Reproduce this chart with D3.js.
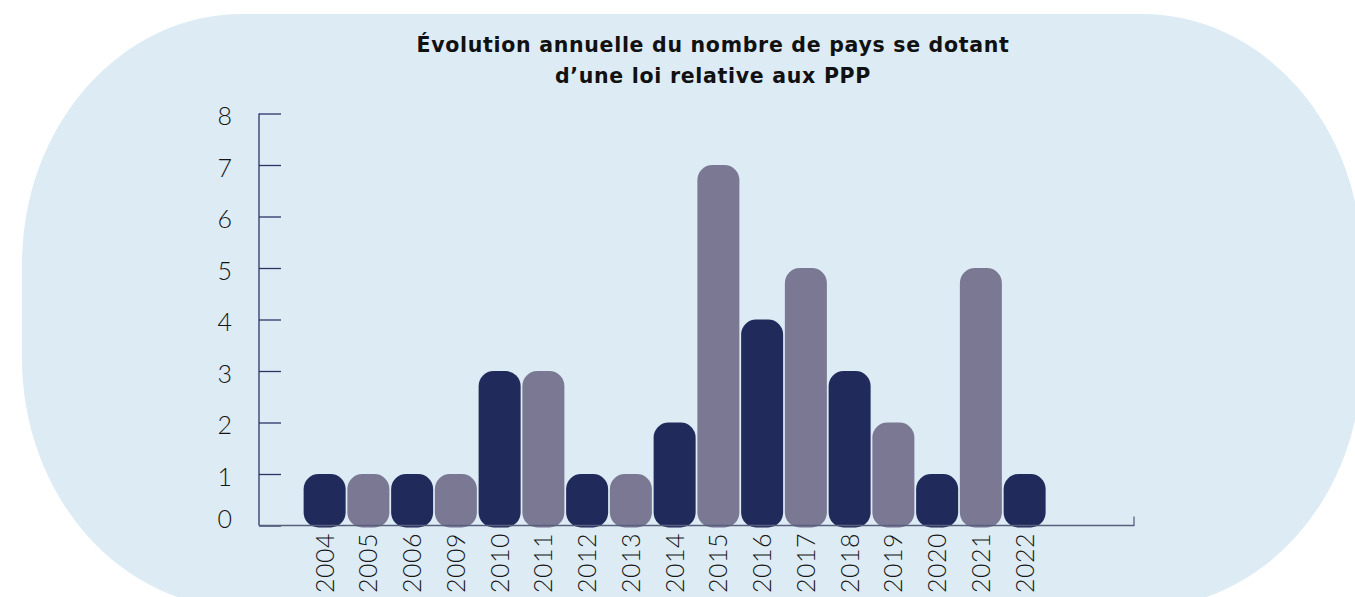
<!DOCTYPE html>
<html>
<head>
<meta charset="utf-8">
<script src="https://cdn.jsdelivr.net/npm/d3@7"></script>
<style>
  body { margin: 0; background: #fff; }
  svg { display: block; }
</style>
</head>
<body>
<div class="chart"></div>
<script>
    // data
    var years  = ["2004", "2005", "2006", "2009", "2010", "2011", "2012", "2013", "2014",
                  "2015", "2016", "2017", "2018", "2019", "2020", "2021", "2022"];
    var counts = [1, 1, 1, 1, 3, 3, 1, 1, 2, 7, 4, 5, 3, 2, 1, 5, 1];
    var yTicks = [0, 1, 2, 3, 4, 5, 6, 7, 8];
    var titleLines = ["Évolution annuelle du nombre de pays se dotant",
                      "d\u2019une loi relative aux PPP"];

    var width = 1355, height = 597;
    var dark = "#212b5b", grey = "#7b7894";
    var digitFont = "Lato, DejaVu Sans, sans-serif";

    var svg = d3.select(".chart")
            .append("svg")
            .attr("width", width)
            .attr("height", height);

    // background blob
    svg.append("rect")
            .attr("x", 22)
            .attr("y", 14)
            .attr("width", 1340)
            .attr("height", 594)
            .attr("rx", 220)
            .attr("ry", 250)
            .style("fill", "#dcebf4");

    // title
    svg.append("text")
            .attr("x", 713)
            .attr("y", 52)
            .style("text-anchor", "middle")
            .style("font-family", "DejaVu Sans, sans-serif")
            .style("font-weight", "bold")
            .style("font-size", "20.5px")
            .style("letter-spacing", "0.7px")
            .style("fill", "#111")
            .selectAll("tspan")
            .data(titleLines)
            .enter()
            .append("tspan")
            .attr("x", 713)
            .attr("dy", function(d, i) { return i ? 31 : 0; })
            .text(function(d) { return d; });

    var left = 259, right = 1134, step = (right - left) / 20;

    var x = d3.scaleBand()
            .domain(years)
            .range([left + step, left + step * 18])
            .paddingInner(0.04)
            .paddingOuter(0.02);

    var y = d3.scaleLinear()
            .domain([0, 8])
            .range([525.5, 113.5]);

    // y axis
    var yAxis = svg.append("g")
            .attr("transform", "translate(" + left + ",0)")
            .call(d3.axisRight(y).tickValues(yTicks).tickSize(22).tickFormat(""));
    yAxis.selectAll("path, line")
            .style("stroke", "#2a3466")
            .style("stroke-width", 1.3);
    yAxis.select(".domain").attr("d", "M0," + y(8) + "V" + y(0));

    svg.append("g")
            .selectAll("text")
            .data(yTicks)
            .enter()
            .append("text")
            .attr("x", 232)
            .attr("y", function(d) { return y(d) + (d === 0 ? -6 : 3); })
            .attr("dy", ".35em")
            .style("text-anchor", "end")
            .style("font-family", digitFont)
            .style("font-weight", 300)
            .style("font-size", "25px")
            .style("fill", "#151515")
            .text(function(d) { return d; });

    // bars
    svg.append("g")
            .selectAll("rect")
            .data(years)
            .enter()
            .append("rect")
            .attr("x", function(d) { return x(d); })
            .attr("y", function(d, i) { return y(counts[i]); })
            .attr("width", x.bandwidth())
            .attr("height", function(d, i) { return y(0) - y(counts[i]) + 2; })
            .attr("rx", 15)
            .style("fill", function(d, i) { return i % 2 ? grey : dark; });

    // x axis
    svg.append("path")
            .attr("d", "M" + left + "," + y(0) + "H" + right + "V" + (y(0) - 9))
            .style("fill", "none")
            .style("stroke", "#59607e")
            .style("stroke-width", 1.3);

    svg.append("g")
            .selectAll("text")
            .data(years)
            .enter()
            .append("text")
            .attr("transform", function(d) {
                return "translate(" + (x(d) + x.bandwidth() / 2 + 9) + ",533) rotate(-90)";
            })
            .style("text-anchor", "end")
            .style("font-family", digitFont)
            .style("font-weight", 300)
            .style("font-size", "25px")
            .style("letter-spacing", "0.5px")
            .style("fill", "#151515")
            .text(function(d) { return d; });
</script>
</body>
</html>
